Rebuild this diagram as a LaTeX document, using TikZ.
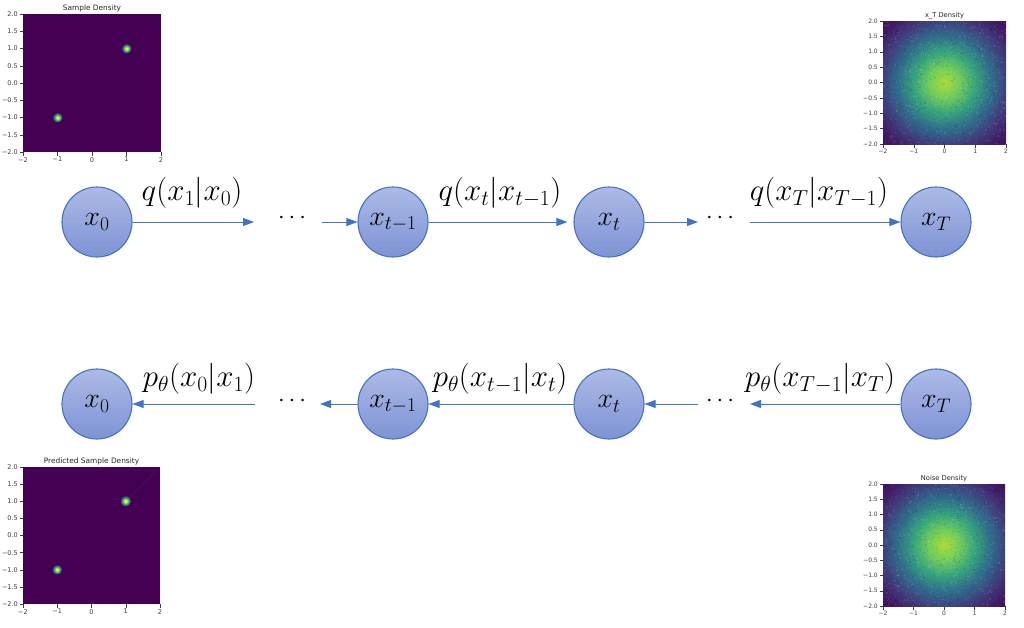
\RequirePackage{fix-cm}
\documentclass[tikz,border=0pt]{standalone}
\usepackage{fontspec}
\usepackage{tikz}
\usetikzlibrary{positioning,arrows.meta,calc}
\newfontfamily\plotfont{DejaVu Sans}
\definecolor{nodeblue}{RGB}{68,114,196}
\definecolor{nodetop}{RGB}{172,186,230}
\definecolor{nodebottom}{RGB}{126,147,213}
\definecolor{tickgray}{RGB}{60,60,60}
% viridis steps
\definecolor{vpurple}{RGB}{68,1,84}
\definecolor{vblue}{RGB}{59,82,139}
\definecolor{vteal}{RGB}{33,145,140}
\definecolor{vgreen}{RGB}{94,201,98}
\definecolor{vyellow}{RGB}{253,231,37}
\pgfdeclareradialshading{viridisdot}{\pgfpointorigin}{%
  color(0bp)=(vyellow); color(6bp)=(vyellow); color(11bp)=(vgreen);
  color(16bp)=(vteal); color(21bp)=(vblue); color(25bp)=(vpurple); color(50bp)=(vpurple)}
\pgfdeclareradialshading{viridisnoise}{\pgfpointorigin}{%
  color(0bp)=(rgb,255:red,172;green,219;blue,58);
  color(4.4bp)=(rgb,255:red,113;green,205;blue,91);
  color(8.8bp)=(rgb,255:red,55;green,165;blue,125);
  color(13.2bp)=(rgb,255:red,46;green,113;blue,139);
  color(17.6bp)=(rgb,255:red,62;green,66;blue,128);
  color(22bp)=(rgb,255:red,65;green,29;blue,103);
  color(25bp)=(rgb,255:red,66;green,16;blue,93);
  color(50bp)=(rgb,255:red,66;green,16;blue,93)}

% axes of one density plot: name, left, top, size, title, title size, tick size
\newcommand{\densityframe}[7]{%
  \fill[vpurple] (#2,#3) rectangle ++(#4,#4);
  \node[font=\plotfont\fontsize{#6}{#6}\selectfont, anchor=base, inner sep=0pt, text=black!85] (#1-title) at ({#2+#4/2},{#3-3.5}) {#5};
  \foreach \lab [count=\i from 0] in {2.0,1.5,1.0,0.5,0.0,−0.5,−1.0,−1.5,−2.0} {
    \draw[line width=0.5pt, tickgray] ({#2},{#3+\i*#4/8}) -- ++(-3.5,0);
    \node[anchor=east, inner sep=0pt, text=tickgray, font=\plotfont\fontsize{#7}{#7}\selectfont] (#1-y\i) at ({#2-5},{#3+\i*#4/8}) {\lab};
  }
  \foreach \lab [count=\i from 0] in {−2,−1,0,1,2} {
    \draw[line width=0.5pt, tickgray] ({#2+\i*#4/4},{#3+#4}) -- ++(0,3.5);
    \node[anchor=north, inner sep=0pt, text=tickgray, font=\plotfont\fontsize{#7}{#7}\selectfont] (#1-x\i) at ({#2+\i*#4/4},{#3+#4+5}) {\lab};
  }
}
% grainy gaussian cloud: centre x, centre y, half size
\newcommand{\noisecloud}[3]{%
  \begin{scope}
    \clip ({#1-#3},{#2-#3}) rectangle ({#1+#3},{#2+#3});
    \shade[shading=viridisnoise] (#1,#2) circle (87);
    \foreach \k in {1,...,700} {
      \fill[white, opacity=0.08] ({#1+#3*rand},{#2+#3*rand}) rectangle ++(1.4,1.4);
      \fill[black, opacity=0.08] ({#1+#3*rand},{#2+#3*rand}) rectangle ++(1.4,1.4);
    }
  \end{scope}
}

\begin{document}
\begin{tikzpicture}[x=1pt, y=-1pt,
  state/.style={circle, draw=nodeblue, line width=1.1pt, top color=nodetop, bottom color=nodebottom, minimum size=70pt, inner sep=0pt, font=\fontsize{28}{34}\selectfont},
  lab/.style={inner sep=0pt, font=\fontsize{31}{36}\selectfont},
  dots/.style={inner sep=0pt, font=\fontsize{24}{30}\selectfont},
  flow/.style={draw=nodeblue, line width=1pt, -{Triangle[length=11pt, width=8pt]}}]
  \useasboundingbox (0,0) rectangle (1024,627);
  \pgfmathsetseed{17}

  % forward process
  \node[state] (fx0) at (97,222) {$x_0$};
  \node[state] (fxtm) at (393,222) {$x_{t-1}$};
  \node[state] (fxt) at (609,222) {$x_t$};
  \node[state] (fxT) at (936,222) {$x_T$};
  \node[dots] (fd1) at (292,218) {$\cdots$};
  \node[dots] (fd2) at (720,218) {$\cdots$};
  \coordinate (fa1) at (254,222);
  \coordinate (fb1) at (322,222);
  \coordinate (fa2) at (698,222);
  \coordinate (fb2) at (750,222);
  \draw[flow] (fx0) -- (fa1);
  \draw[flow] (fb1) -- (fxtm);
  \draw[flow] (fxtm) -- ($(fxt.west)+(-6,0)$);
  \draw[flow] (fxt) -- (fa2);
  \draw[flow] (fb2) -- (fxT);
  \node[lab] (fl1) at (192,193) {$q(x_1|x_0)$};
  \node[lab] (fl2) at (500,193) {$q(x_t|x_{t-1})$};
  \node[lab] (fl3) at (819,193) {$q(x_T|x_{T-1})$};

  % reverse process
  \node[state] (rx0) at (97,404) {$x_0$};
  \node[state] (rxtm) at (393,404) {$x_{t-1}$};
  \node[state] (rxt) at (609,404) {$x_t$};
  \node[state] (rxT) at (936,404) {$x_T$};
  \node[dots] (rd1) at (292,401) {$\cdots$};
  \node[dots] (rd2) at (720,401) {$\cdots$};
  \coordinate (ra1) at (255,404);
  \coordinate (rb1) at (320,404);
  \coordinate (ra2) at (698,404);
  \coordinate (rb2) at (750,404);
  \draw[flow] (rxT) -- (rb2);
  \draw[flow] (ra2) -- (rxt);
  \draw[flow] (rxt) -- (rxtm);
  \draw[flow] (rxtm) -- (rb1);
  \draw[flow] (ra1) -- (rx0);
  \node[lab] (rl1) at (199,379) {$p_\theta(x_0|x_1)$};
  \node[lab] (rl2) at (500,379) {$p_\theta(x_{t-1}|x_t)$};
  \node[lab] (rl3) at (820,379) {$p_\theta(x_{T-1}|x_T)$};

  % density plots
  \densityframe{sd}{23}{14}{138}{Sample Density}{7.4}{6.5}
  \shade[shading=viridisdot] (126.5,48.5) circle (5);
  \shade[shading=viridisdot] (57.5,117.5) circle (5);

  \densityframe{pd}{23}{467}{137}{Predicted Sample Density}{7.4}{6.5}
  \draw[vteal, opacity=0.12, line width=0.8pt] (127,500) -- (156,471);
  \shade[shading=viridisdot] (125.5,501) circle (5.5);
  \shade[shading=viridisdot] (57,569.5) circle (5);

  \densityframe{xd}{883}{21}{123}{x\_T Density}{6.7}{6}
  \noisecloud{944.5}{82.5}{61.5}

  \densityframe{nd}{883}{484}{122}{Noise Density}{6.7}{6}
  \noisecloud{944}{545}{61}
\end{tikzpicture}
\end{document}
